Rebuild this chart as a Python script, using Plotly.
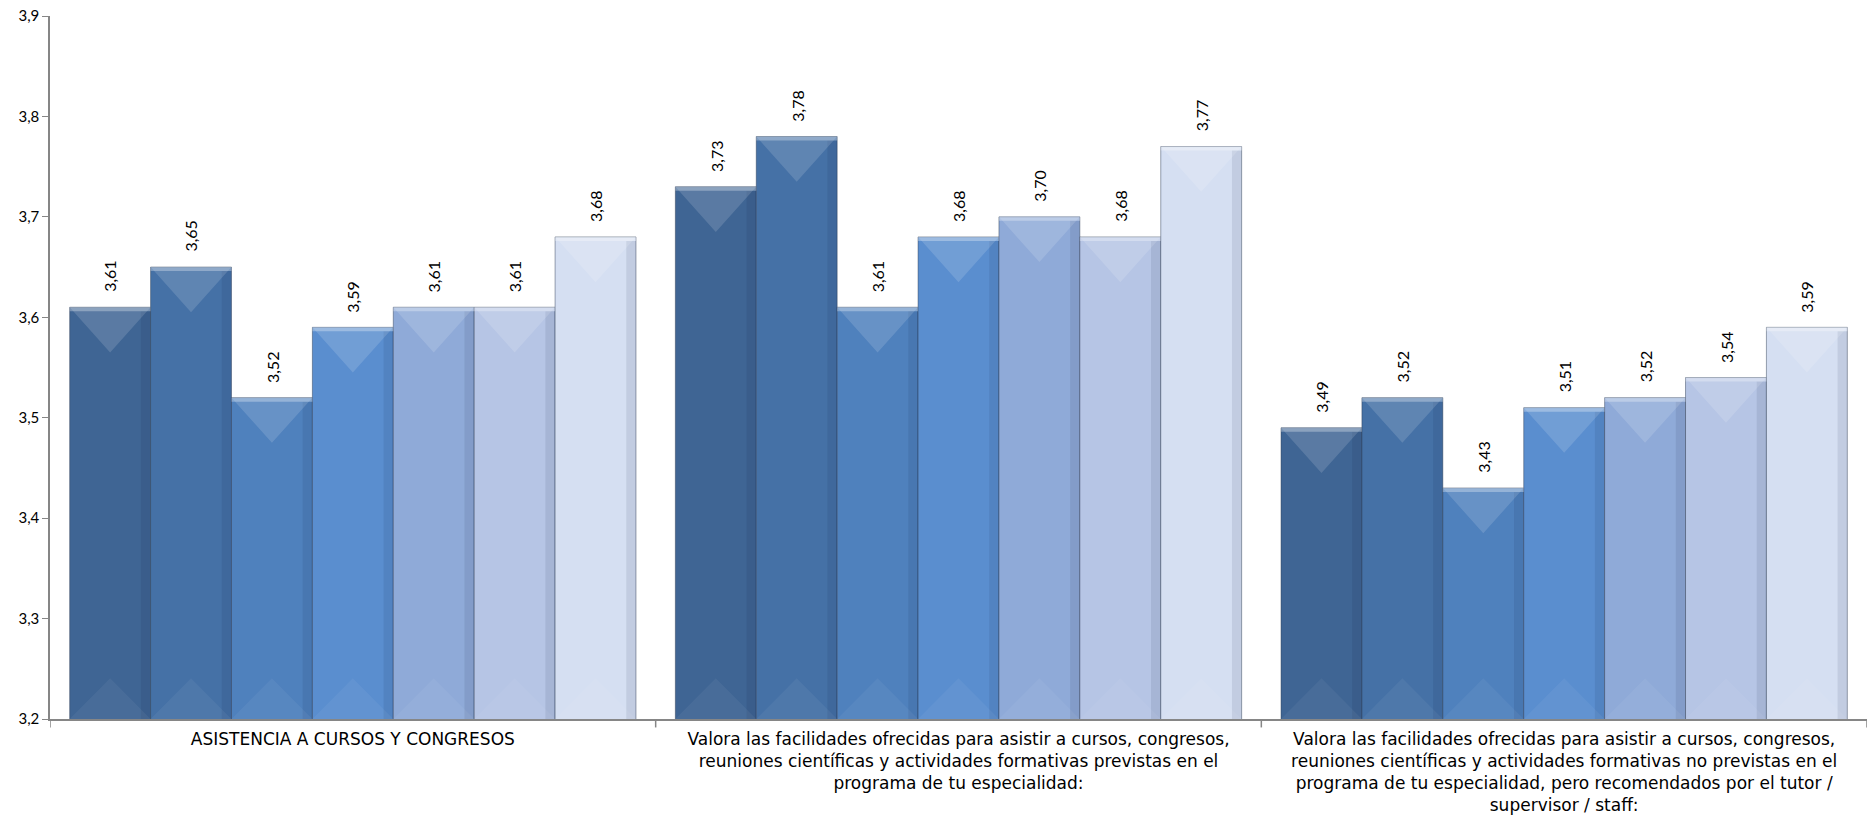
import plotly.graph_objects as go

# Category labels (x axis) and the seven series values
categories = [
    "ASISTENCIA A CURSOS Y CONGRESOS",
    "Valora las facilidades ofrecidas para asistir a cursos, congresos,<br>"
    "reuniones científicas y actividades formativas previstas en el<br>"
    "programa de tu especialidad:",
    "Valora las facilidades ofrecidas para asistir a cursos, congresos,<br>"
    "reuniones científicas y actividades formativas no previstas en el<br>"
    "programa de tu especialidad, pero recomendados por el tutor /<br>"
    "supervisor / staff:",
]

serie_1 = [3.61, 3.73, 3.49]
serie_2 = [3.65, 3.78, 3.52]
serie_3 = [3.52, 3.61, 3.43]
serie_4 = [3.59, 3.68, 3.51]
serie_5 = [3.61, 3.70, 3.52]
serie_6 = [3.61, 3.68, 3.54]
serie_7 = [3.68, 3.77, 3.59]

series = [serie_1, serie_2, serie_3, serie_4, serie_5, serie_6, serie_7]
colors = ["#3F6594", "#4571A6", "#4F81BD", "#5A8ECF", "#8FAAD8", "#B6C5E5", "#D5DFF2"]

y_ticks = [3.2, 3.3, 3.4, 3.5, 3.6, 3.7, 3.8, 3.9]
y_min, y_max = 3.2, 3.9

bargap = 0.065
n = len(series)
bw = (1 - bargap) / n
cat_pos = list(range(len(categories)))

fig = go.Figure()

for i, (vals, col) in enumerate(zip(series, colors)):
    fig.add_trace(go.Bar(
        x=cat_pos, y=vals, name=f"Serie {i + 1}",
        marker=dict(color=col, line=dict(color="rgba(40,55,80,0.45)", width=1)),
        hoverinfo="y",
    ))

# Bevel shading drawn over every bar: light top wedge, light bottom wedge, darker right edge
top_x, top_y, bot_x, bot_y, edge_x, edge_y, cap_x, cap_y = [], [], [], [], [], [], [], []
bev = 0.045
for i, vals in enumerate(series):
    for c, v in zip(cat_pos, vals):
        cx = c + (i - (n - 1) / 2) * bw
        l, r = cx - bw / 2, cx + bw / 2
        top_x += [l, r, cx, l, None]
        top_y += [v, v, v - bev, v, None]
        cap_x += [l, r, r, l, l, None]
        cap_y += [v, v, v - 0.004, v - 0.004, v, None]
        bot_x += [l, r, cx, l, None]
        bot_y += [y_min, y_min, y_min + bev * 0.9, y_min, None]
        ew = bw * 0.12
        edge_x += [r - ew, r, r, r - ew, r - ew, None]
        edge_y += [v - 0.004, v - 0.004, y_min, y_min, v - 0.004, None]

for xs, ys, fc in [
    (edge_x, edge_y, "rgba(10,25,50,0.09)"),
    (top_x, top_y, "rgba(255,255,255,0.14)"),
    (bot_x, bot_y, "rgba(255,255,255,0.05)"),
    (cap_x, cap_y, "rgba(255,255,255,0.30)"),
]:
    fig.add_trace(go.Scatter(
        x=xs, y=ys, mode="lines", fill="toself", fillcolor=fc,
        line=dict(width=0), hoverinfo="skip", showlegend=False,
    ))

# Value labels above each bar, rotated
for i, vals in enumerate(series):
    for c, v in zip(cat_pos, vals):
        cx = c + (i - (n - 1) / 2) * bw
        fig.add_annotation(
            x=cx, y=v, text=f"{v:.2f}".replace(".", ","), textangle=-90,
            showarrow=False, xanchor="center", yanchor="bottom", yshift=13,
            font=dict(family="Lato, Liberation Sans, sans-serif", size=16, color="#000000"),
        )

axis_grey = "#868686"
fig.update_layout(
    barmode="group", bargap=bargap, bargroupgap=0,
    width=1870, height=820,
    margin=dict(l=50, r=3, t=16, b=101),
    paper_bgcolor="white", plot_bgcolor="white",
    showlegend=False,
    separators=",.",
    xaxis=dict(
        range=[-0.5, len(categories) - 0.5],
        tickmode="array", tickvals=cat_pos, ticktext=categories,
        showline=True, linecolor=axis_grey, linewidth=1.5,
        ticks="", showgrid=False, zeroline=False, ticklabelstandoff=4,
        tickfont=dict(family="DejaVu Sans, sans-serif", size=17, color="#000000"),
    ),
    yaxis=dict(
        range=[y_min, y_max], tickvals=y_ticks,
        tickformat=".1f",
        showline=True, linecolor=axis_grey, linewidth=1.5,
        ticks="outside", ticklen=6, tickcolor=axis_grey,
        showgrid=False, zeroline=False,
        tickfont=dict(family="Lato, Liberation Sans, sans-serif", size=15, color="#000000"),
    ),
)

# Separator ticks between the category groups
for b in [k + 0.5 for k in range(-1, len(categories))]:
    fig.add_shape(type="line", xref="x", yref="paper", x0=b, x1=b, y0=0, y1=-0.012,
                  line=dict(color=axis_grey, width=1.5))

fig.write_html("out.html")
